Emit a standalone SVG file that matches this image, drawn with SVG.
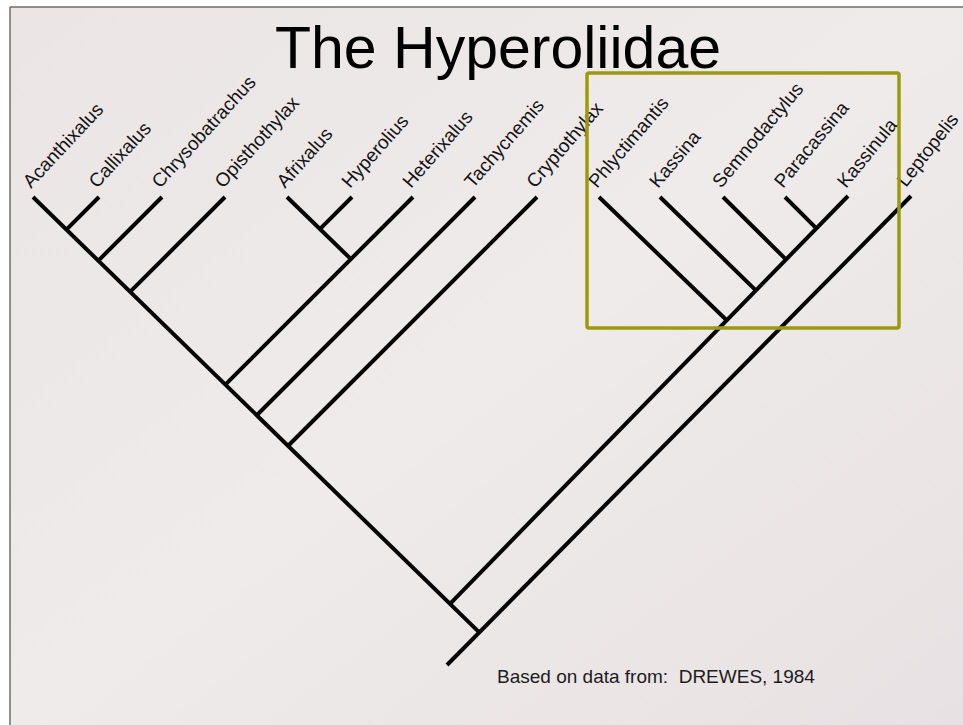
<svg xmlns="http://www.w3.org/2000/svg" width="963" height="725" viewBox="0 0 963 725">
<defs>
<linearGradient id="paper" x1="0" y1="0" x2="1" y2="1">
<stop offset="0" stop-color="#ebe5e6"/>
<stop offset="0.5" stop-color="#efebea"/>
<stop offset="1" stop-color="#e8e1e3"/>
</linearGradient>
</defs>
<style>
.lbl{font-family:"Liberation Sans",Arial,sans-serif;font-size:19px;fill:#141414}
.edge{stroke:#050505;stroke-width:4;fill:none;stroke-linecap:butt}
.title{font-family:"Liberation Sans",Arial,sans-serif;font-size:59px;fill:#000}
.note{font-family:"Liberation Sans",Arial,sans-serif;font-size:19px;fill:#1c1c1c}
</style>
<rect x="0" y="0" width="963" height="725" fill="#ffffff"/>
<rect x="10" y="7" width="953" height="718" fill="url(#paper)"/>
<line x1="10" y1="7" x2="963" y2="7" stroke="#6e6e6e" stroke-width="1.5"/>
<line x1="10" y1="7" x2="10" y2="725" stroke="#6e6e6e" stroke-width="1.5"/>

<g id="title"><text class="title" x="275" y="68">The Hyperoliidae</text></g>

<g id="connectors">
<path class="edge" d="M33,197 L479,632.1"/>
<path class="edge" d="M911,196 L447,665"/>
<path class="edge" d="M848,196 L450,603.8"/>
<path class="edge" d="M99,197 L65.9,230.1"/>
<path class="edge" d="M162,197 L97.9,261.1"/>
<path class="edge" d="M225,197 L129.8,292.2"/>
<path class="edge" d="M287,197 L350.9,259.1"/>
<path class="edge" d="M352,197 L319.9,229.1"/>
<path class="edge" d="M413,197 L225.1,384.9"/>
<path class="edge" d="M475,197 L256.5,415.5"/>
<path class="edge" d="M537,197 L287.9,446"/>
<path class="edge" d="M599,197 L725.9,319.5"/>
<path class="edge" d="M660,197 L755.6,290.1"/>
<path class="edge" d="M723,197 L786.2,259.7"/>
<path class="edge" d="M785,197 L816.4,228.3"/>
</g>

<g id="Acanthixalus"><text class="lbl" transform="translate(31,189) rotate(-47)">Acanthixalus</text></g>
<g id="Callixalus"><text class="lbl" transform="translate(97,189) rotate(-47.3)">Callixalus</text></g>
<g id="Chrysobatrachus"><text class="lbl" transform="translate(160,189) rotate(-47.6)">Chrysobatrachus</text></g>
<g id="Opisthothylax"><text class="lbl" transform="translate(223,189) rotate(-47.9)">Opisthothylax</text></g>
<g id="Afrixalus"><text class="lbl" transform="translate(285,189) rotate(-48.2)">Afrixalus</text></g>
<g id="Hyperolius"><text class="lbl" transform="translate(350,189) rotate(-48.5)">Hyperolius</text></g>
<g id="Heterixalus"><text class="lbl" transform="translate(411,189) rotate(-48.7)">Heterixalus</text></g>
<g id="Tachycnemis"><text class="lbl" transform="translate(473,189) rotate(-49)">Tachycnemis</text></g>
<g id="Cryptothylax"><text class="lbl" transform="translate(535,189) rotate(-49.3)">Cryptothylax</text></g>
<g id="Phlyctimantis"><text class="lbl" transform="translate(597,189) rotate(-49.6)">Phlyctimantis</text></g>
<g id="Kassina"><text class="lbl" transform="translate(658,189) rotate(-49.9)">Kassina</text></g>
<g id="Semnodactylus"><text class="lbl" transform="translate(721,189) rotate(-50.1)">Semnodactylus</text></g>
<g id="Paracassina"><text class="lbl" transform="translate(783,189) rotate(-50.4)">Paracassina</text></g>
<g id="Kassinula"><text class="lbl" transform="translate(846,189) rotate(-50.7)">Kassinula</text></g>
<g id="Leptopelis"><text class="lbl" transform="translate(906,188) rotate(-52)">Leptopelis</text></g>

<g id="highlight"><rect x="587" y="73" width="312" height="255" rx="2" fill="none" stroke="#9c9a08" stroke-width="3.5"/></g>

<g id="source"><text class="note" x="497" y="683" xml:space="preserve">Based on data from:  DREWES, 1984</text></g>
</svg>
